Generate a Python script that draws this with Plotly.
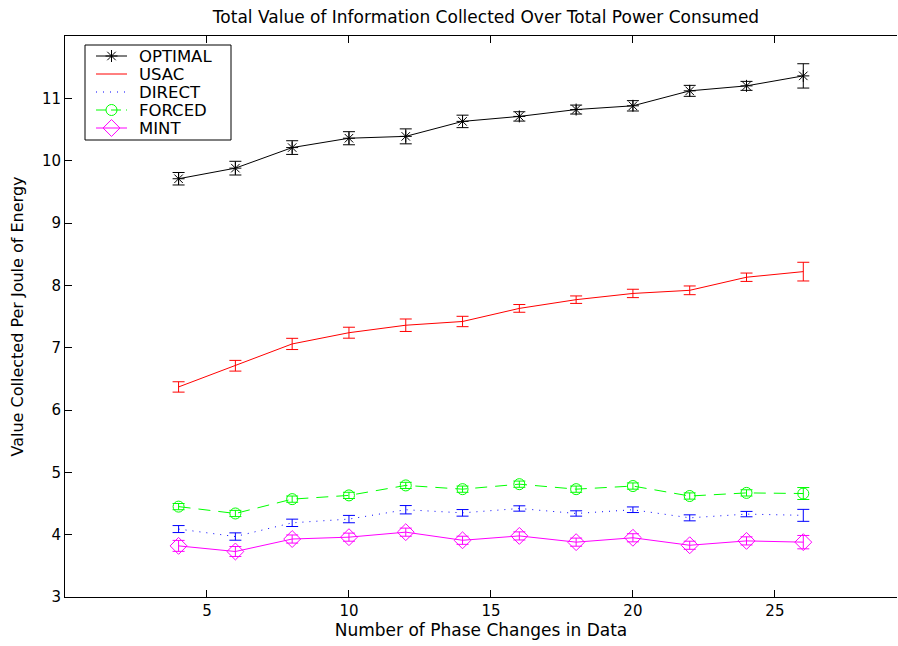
import plotly.graph_objects as go

# Number of phase changes in the data (x positions shared by every series)
phase_changes = [4, 6, 8, 10, 12, 14, 16, 18, 20, 22, 24, 26]

# Mean value collected per joule and the half-width of each error bar
optimal = [9.71, 9.88, 10.21, 10.36, 10.39, 10.63, 10.71, 10.82, 10.88, 11.12, 11.20, 11.36]
optimal_err = [0.10, 0.11, 0.11, 0.105, 0.12, 0.10, 0.075, 0.072, 0.083, 0.088, 0.072, 0.195]

usac = [6.37, 6.71, 7.06, 7.24, 7.36, 7.42, 7.63, 7.77, 7.87, 7.92, 8.13, 8.22]
usac_err = [0.083, 0.086, 0.09, 0.088, 0.10, 0.083, 0.062, 0.06, 0.067, 0.07, 0.067, 0.15]

direct = [4.09, 3.97, 4.19, 4.25, 4.40, 4.35, 4.42, 4.34, 4.40, 4.27, 4.33, 4.31]
direct_err = [0.056, 0.059, 0.059, 0.059, 0.067, 0.053, 0.043, 0.043, 0.045, 0.048, 0.043, 0.096]

forced = [4.45, 4.34, 4.57, 4.63, 4.79, 4.73, 4.81, 4.73, 4.78, 4.62, 4.67, 4.66]
forced_err = [0.05, 0.05, 0.05, 0.05, 0.05, 0.05, 0.05, 0.05, 0.05, 0.05, 0.05, 0.096]

mint = [3.82, 3.73, 3.93, 3.96, 4.04, 3.91, 3.98, 3.88, 3.95, 3.83, 3.90, 3.88]
mint_err = [0.088, 0.08, 0.065, 0.065, 0.065, 0.065, 0.065, 0.065, 0.065, 0.065, 0.065, 0.107]

y_ticks = [3, 4, 5, 6, 7, 8, 9, 10, 11]
x_ticks = [5, 10, 15, 20, 25]

FONT = "DejaVu Sans, Liberation Sans, Arial, sans-serif"

# Page geometry (pixels) of the plotting area
W, H = 898, 646
L, R, T, B = 65, 897, 36, 597

series = [
    dict(name="OPTIMAL", y=optimal, err=optimal_err, color="#000000",
         dash="solid", symbol="asterisk-open", msize=10, mode="lines+markers"),
    dict(name="USAC", y=usac, err=usac_err, color="#ff0000",
         dash="solid", symbol=None, msize=0, mode="lines"),
    dict(name="DIRECT", y=direct, err=direct_err, color="#0000ff",
         dash="1px,6px", symbol=None, msize=0, mode="lines"),
    dict(name="FORCED", y=forced, err=forced_err, color="#00ff00",
         dash="12px,8px", symbol="circle-open", msize=11, mode="lines+markers"),
    dict(name="MINT", y=mint, err=mint_err, color="#ff00ff",
         dash="solid", symbol="diamond-open", msize=13, mode="lines+markers"),
]


def marker_for(s):
    m = dict(color=s["color"], size=s["msize"], line=dict(color=s["color"], width=1))
    if s["symbol"]:
        m["symbol"] = s["symbol"]
    return m


fig = go.Figure()
for s in series:
    fig.add_trace(go.Scatter(
        x=phase_changes, y=s["y"], name=s["name"], mode=s["mode"],
        line=dict(color=s["color"], width=1, dash=s["dash"]),
        marker=marker_for(s),
        error_y=dict(type="data", array=s["err"], visible=True,
                     color=s["color"], thickness=1, width=6),
        showlegend=False,
    ))

# Legend key drawn on an overlay axis pair measured in page pixels
LEG_X0, LEG_X1, LEG_Y0, LEG_Y1 = 85, 231, 45, 140
ROW0, ROW_STEP = 56, 18
SAMPLE_X0, SAMPLE_X1, TEXT_X = 96, 127, 137

shapes = [dict(type="rect", xref="x2", yref="y2",
               x0=LEG_X0, x1=LEG_X1, y0=LEG_Y0, y1=LEG_Y1,
               line=dict(color="black", width=1), fillcolor="white", layer="below")]
annotations = []
for i, s in enumerate(series):
    row_y = ROW0 + i * ROW_STEP
    key_dash = "10px,5px" if s["name"] == "FORCED" else s["dash"]
    fig.add_trace(go.Scatter(
        x=[SAMPLE_X0, SAMPLE_X1], y=[row_y, row_y], xaxis="x2", yaxis="y2",
        mode="lines", line=dict(color=s["color"], width=1, dash=key_dash),
        showlegend=False, hoverinfo="skip",
    ))
    if s["symbol"]:
        fig.add_trace(go.Scatter(
            x=[(SAMPLE_X0 + SAMPLE_X1) / 2], y=[row_y], xaxis="x2", yaxis="y2",
            mode="markers", marker=marker_for(s),
            showlegend=False, hoverinfo="skip",
        ))
    annotations.append(dict(
        x=TEXT_X, y=row_y, xref="x2", yref="y2", text=s["name"],
        showarrow=False, xanchor="left", yanchor="middle",
        font=dict(family=FONT, size=16.5, color="black"),
    ))

fig.update_layout(
    width=W, height=H,
    margin=dict(l=L, r=W - R, t=T, b=H - B),
    paper_bgcolor="white", plot_bgcolor="white",
    font=dict(family=FONT, size=15, color="black"),
    title=dict(text="Total Value of Information Collected Over Total Power Consumed",
               x=486 / W, xanchor="center", xref="container",
               y=1 - 17 / H, yanchor="middle", yref="container",
               font=dict(family=FONT, size=17, color="black")),
    showlegend=False,
    shapes=shapes,
    annotations=annotations,
    xaxis=dict(
        range=[0, 29.3], tickvals=x_ticks, ticktext=[str(v) for v in x_ticks],
        ticks="inside", ticklen=7, tickcolor="black", tickwidth=1,
        showline=True, linecolor="black", linewidth=1, mirror="ticks",
        showgrid=False, zeroline=False,
        tickfont=dict(family=FONT, size=15),
        title=dict(text="Number of Phase Changes in Data", standoff=5,
                   font=dict(family=FONT, size=17)),
    ),
    yaxis=dict(
        range=[3, 12], tickvals=y_ticks, ticktext=[str(v) for v in y_ticks],
        ticks="inside", ticklen=7, tickcolor="black", tickwidth=1,
        showline=True, linecolor="black", linewidth=1, mirror=False,
        showgrid=False, zeroline=False,
        tickfont=dict(family=FONT, size=15),
        title=dict(text="Value Collected Per Joule of Energy", standoff=14,
                   font=dict(family=FONT, size=16)),
    ),
    xaxis2=dict(overlaying="x", anchor="y2", range=[L, R], visible=False, fixedrange=True),
    yaxis2=dict(overlaying="y", anchor="x2", range=[B, T], visible=False, fixedrange=True),
)

fig.write_html("out.html")
